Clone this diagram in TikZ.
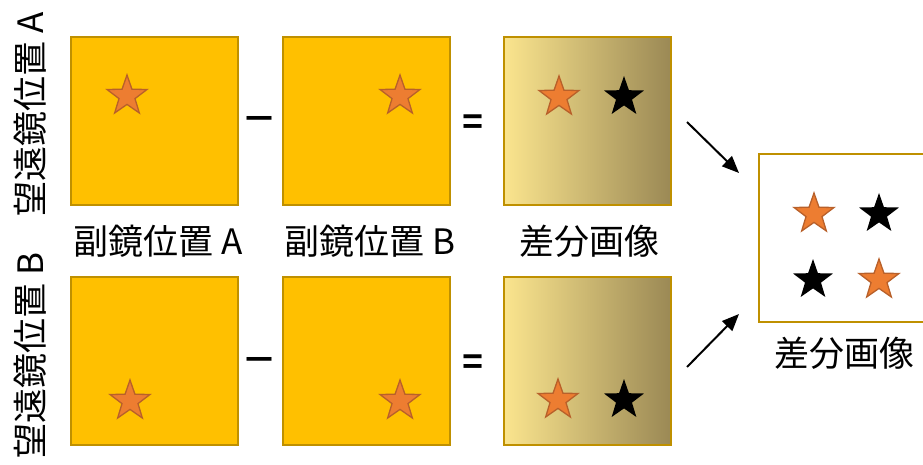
\documentclass[tikz,border=0pt]{standalone}
\usepackage{graphicx}
\usepackage{fontspec}
\setmainfont{Noto Sans CJK JP}
\newfontfamily\opfont{Liberation Sans}
\usetikzlibrary{shapes.geometric,arrows.meta}
\definecolor{gold}{HTML}{FFC000}
\definecolor{goldline}{HTML}{BF9000}
\definecolor{starorange}{HTML}{ED7D31}
\definecolor{starline}{HTML}{B8602A}
\definecolor{gradleft}{RGB}{251,229,142}
\definecolor{gradright}{RGB}{155,137,85}
\newcommand{\widedash}{\scalebox{1.4}[1.05]{–}}
\tikzset{
  frame/.style={draw=goldline, line width=2pt, minimum width=167pt, minimum height=168pt, inner sep=0pt},
  goldbox/.style={frame, fill=gold},
  gradbox/.style={frame, left color=gradleft, right color=gradright},
  ostar/.style={star, star points=5, star point ratio=2.5, minimum size=42pt, inner sep=0pt, fill=starorange, draw=starline, line width=1.3pt},
  kstar/.style={star, star points=5, star point ratio=2.5, minimum size=42pt, inner sep=0pt, fill=black},
  lbl/.style={font=\fontsize{35}{40}\selectfont, inner sep=0pt},
  op/.style={font=\opfont\bfseries\fontsize{36}{40}\selectfont, inner sep=0pt},
  arr/.style={line width=2pt, -{Triangle[length=17pt,width=14pt]}}
}
\begin{document}
\begin{tikzpicture}[x=1pt,y=-1pt]
\useasboundingbox (0,0) rectangle (923,465);
\clip (0,0) rectangle (923,465);
% top row
\node[goldbox] (a1) at (154.5,121) {};
\node[goldbox] (a2) at (366.5,121) {};
\node[gradbox] (a3) at (587,121) {};
% bottom row
\node[goldbox] (b1) at (154.5,361) {};
\node[goldbox] (b2) at (366.5,361) {};
\node[gradbox] (b3) at (587,361) {};
% result box
\node[draw=goldline, line width=2pt, minimum width=200pt, minimum height=168pt, inner sep=0pt] (r) at (859,238) {};
% stars
\node[ostar] (sa1) at (127,96) {};
\node[ostar] (sa2) at (400,96) {};
\node[ostar] (sa3) at (559,97) {};
\node[kstar] (ka3) at (624,97) {};
\node[ostar] (sb1) at (130,401) {};
\node[ostar] (sb2) at (400,401) {};
\node[ostar] (sb3) at (558,400) {};
\node[kstar] (kb3) at (624,400) {};
\node[ostar] (sr1) at (814,214) {};
\node[kstar] (kr1) at (879,214) {};
\node[kstar] (kr2) at (813,280) {};
\node[ostar] (sr2) at (879,280) {};
% operators
\node[op] (m1) at (260,122) {\widedash};
\node[op] (e1) at (473,124) {=};
\node[op] (m2) at (260,363) {\widedash};
\node[op] (e2) at (473,364) {=};
% labels
\node[lbl] (la) at (158,241) {副鏡位置 A};
\node[lbl] (lb) at (370,241) {副鏡位置 B};
\node[lbl] (lc) at (589,241) {差分画像};
\node[lbl] (ld) at (844,353) {差分画像};
\node[lbl, rotate=90, anchor=east] (va) at (30,12) {望遠鏡位置 A};
\node[lbl, rotate=90, anchor=east] (vb) at (30,252) {望遠鏡位置 B};
% arrows
\coordinate (t0) at (687,122);
\coordinate (t1) at (739,173);
\coordinate (u0) at (687,367);
\coordinate (u1) at (739,314);
\draw[arr] (t0) -- (t1);
\draw[arr] (u0) -- (u1);
\end{tikzpicture}
\end{document}
